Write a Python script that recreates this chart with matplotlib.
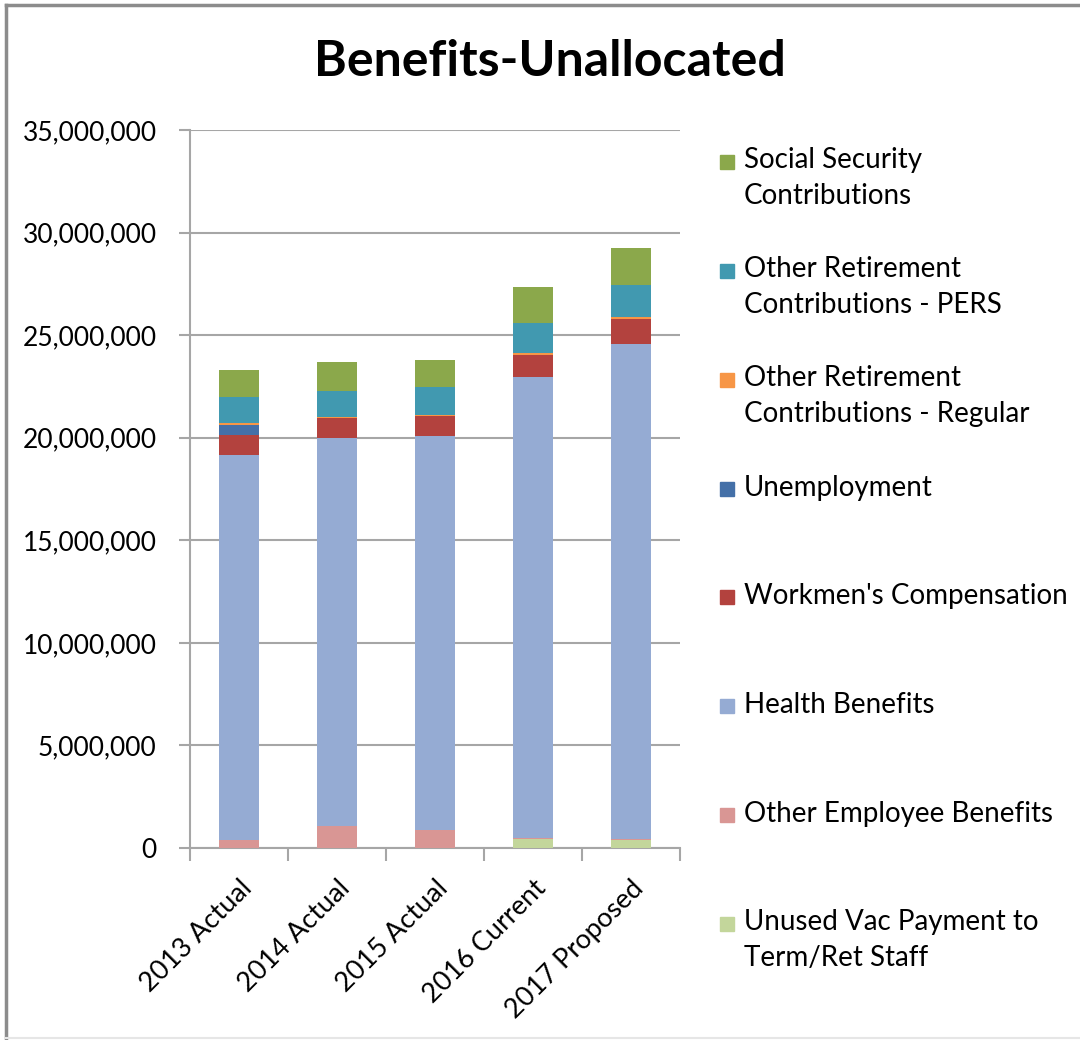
import matplotlib.pyplot as plt
from matplotlib.patches import Rectangle
from matplotlib.lines import Line2D
from matplotlib.ticker import FuncFormatter

plt.rcParams['font.family'] = ['Lato', 'DejaVu Sans']

years = ["2013 Actual", "2014 Actual", "2015 Actual", "2016 Current", "2017 Proposed"]

# values, in dollars (stack order bottom -> top)
unused_vac = [0, 0, 0, 420000, 390000]
other_emp = [370000, 1090000, 880000, 50000, 60000]
health = [18800000, 18890000, 19180000, 22490000, 24140000]
workmens = [980000, 980000, 1010000, 1090000, 1210000]
unemployment = [480000, 0, 0, 0, 0]
retire_regular = [90000, 50000, 60000, 80000, 90000]
retire_pers = [1250000, 1280000, 1340000, 1470000, 1540000]
social_security = [1350000, 1380000, 1330000, 1730000, 1820000]

series = [
    ("Unused Vac Payment to\nTerm/Ret Staff", unused_vac, "#c3d69b"),
    ("Other Employee Benefits", other_emp, "#d99694"),
    ("Health Benefits", health, "#95abd3"),
    ("Workmen's Compensation", workmens, "#b3423e"),
    ("Unemployment", unemployment, "#4470a8"),
    ("Other Retirement\nContributions - Regular", retire_regular, "#f79646"),
    ("Other Retirement\nContributions - PERS", retire_pers, "#4199b0"),
    ("Social Security\nContributions", social_security, "#8ba84b"),
]

fig = plt.figure(figsize=(10.8, 10.4), dpi=100)
ax = fig.add_axes([190 / 1080, 1 - 848 / 1040, 490 / 1080, 718 / 1040])

x = list(range(len(years)))
bottom = [0] * len(years)
for name, vals, col in series:
    ax.bar(x, vals, width=0.4, bottom=bottom, color=col, zorder=3)
    bottom = [b + v for b, v in zip(bottom, vals)]

ax.set_xlim(-0.5, len(years) - 0.5)
ax.set_ylim(0, 35000000)
ax.set_yticks(range(0, 35000001, 5000000))
ax.yaxis.set_major_formatter(FuncFormatter(lambda v, p: f"{int(v):,}"))
ax.grid(axis='y', color='#a6a6a6', lw=1.5, zorder=0)

ax.set_xticks(x)
ax.set_xticklabels(years, rotation=45, ha='right', rotation_mode='anchor', fontsize=19.5)
ax.set_xticks([i - 0.5 for i in range(len(years) + 1)], minor=True)
ax.tick_params(axis='x', which='major', length=0, pad=20)
ax.tick_params(axis='x', which='minor', length=9, width=1.5, color='#a6a6a6')
ax.tick_params(axis='y', length=8, width=1.5, color='#a6a6a6', labelsize=19, pad=16)

for s in ['top', 'right']:
    ax.spines[s].set_visible(False)
for s in ['left', 'bottom']:
    ax.spines[s].set_color('#a6a6a6')
    ax.spines[s].set_linewidth(1.5)

fig.text(550 / 1080, 1 - 62 / 1040, "Benefits-Unallocated", ha='center', va='center',
         fontsize=36, fontweight='bold')

# legend, drawn top to bottom in reverse of the stack order
legend_y = [178, 287, 396, 488, 596, 705, 814, 940]
for (name, vals, col), yc in zip(reversed(series), legend_y):
    nlines = name.count("\n") + 1
    first = yc - (nlines - 1) * 17.5
    fig.patches.append(Rectangle((720 / 1080, 1 - (first + 8) / 1040), 14 / 1080, 14 / 1040,
                                 transform=fig.transFigure, color=col))
    fig.text(744 / 1080, 1 - yc / 1040, name, ha='left', va='center', fontsize=20,
             linespacing=1.45)

# outer chart frame
fig.add_artist(Line2D([6 / 1080, 1], [1 - 5 / 1040, 1 - 5 / 1040], transform=fig.transFigure,
                      color='#8c8c8c', lw=2.5))
fig.add_artist(Line2D([6 / 1080, 6 / 1080], [1 - 5 / 1040, 1 - 1038 / 1040], transform=fig.transFigure,
                      color='#8c8c8c', lw=2.5))
fig.add_artist(Line2D([6 / 1080, 1], [1 - 1038 / 1040, 1 - 1038 / 1040], transform=fig.transFigure,
                      color='#e6e6e6', lw=1.5))

fig.savefig("out.png", dpi=100)
